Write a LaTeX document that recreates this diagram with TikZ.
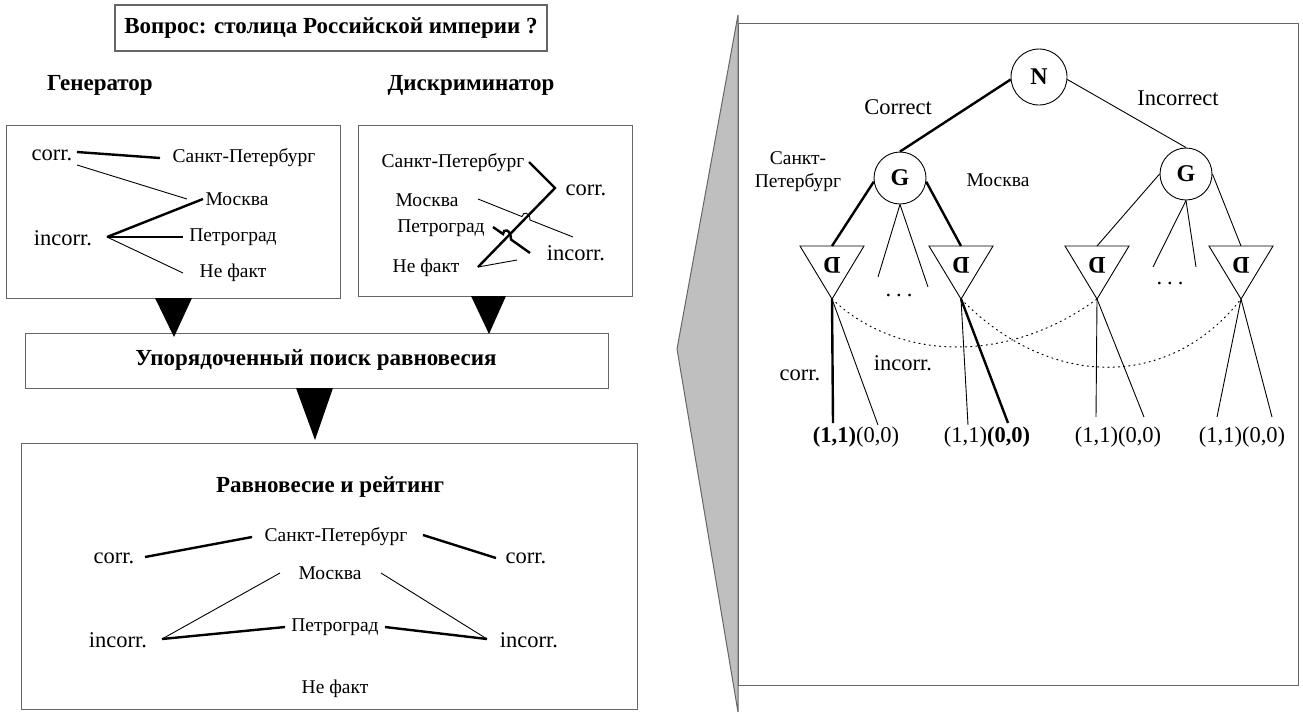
\documentclass[tikz,border=0pt]{standalone}
\usepackage{fontspec}
\setmainfont{Liberation Serif}
\usetikzlibrary{calc}
\begin{document}
\begin{tikzpicture}[x=1pt,y=-1pt,
  frame/.style={draw=black!60, line width=1.3pt, inner sep=0pt},
  cyr/.style={font=\fontsize{19.5}{22}\selectfont, inner sep=0pt},
  lat/.style={font=\fontsize{22.5}{25}\selectfont, inner sep=0pt},
  hd/.style={font=\fontsize{23}{27}\selectfont\bfseries, inner sep=0pt},
  ln/.style={line width=0.9pt},
  bold line/.style={line width=2.4pt},
  pointer/.style={fill=black},
  gnode/.style={circle, draw, line width=0.9pt, minimum size=52pt, inner sep=0pt, font=\fontsize{24}{26}\selectfont\bfseries},
  dnode/.style={font=\fontsize{24}{26}\selectfont\bfseries, inner sep=0pt, rotate=180},
  dotline/.style={dash pattern=on 1.2pt off 4pt, line cap=round, line width=1pt}
]
\useasboundingbox (0,0) rectangle (1303,713);

% ---------- left part ----------
\node[frame, hd, minimum width=432pt, minimum height=46pt] (qbox) at (331,28) {Вопрос: столица Российской империи ?};
\node[hd] (gen) at (100,85) {Генератор};
\node[hd] (disc) at (471,85) {Дискриминатор};

\node[frame, anchor=north west, minimum width=334pt, minimum height=173pt] (genbox) at (6,125) {};
\node[frame, anchor=north west, minimum width=274pt, minimum height=171pt] (discbox) at (358,125) {};
\node[frame, anchor=north west, minimum width=583pt, minimum height=55pt] (search) at (25,333) {};
\node[hd] (searchtxt) at (316,360) {Упорядоченный поиск равновесия};
\node[frame, anchor=north west, minimum width=616pt, minimum height=266pt] (eqbox) at (21,443) {};

% pointers
\fill[pointer] (155,298) -- (192,298) -- (174,337) -- cycle;
\fill[pointer] (471,296) -- (506,296) -- (489,334) -- cycle;
\fill[pointer] (296,388) -- (333,388) -- (315,440) -- cycle;

% generator box
\node[lat] (gc) at (52,155) {corr.};
\node[lat] (gi) at (63,238) {incorr.};
\node[cyr] (gsp) at (244,158) {Санкт-Петербург};
\node[cyr] (gmo) at (237,199) {Москва};
\node[cyr] (gpe) at (233,237) {Петроград};
\node[cyr] (gnf) at (233,273) {Не факт};
\coordinate (gcA) at (77,152);
\coordinate (gcB) at (77,165);
\coordinate (giA) at (107,237);
\draw[bold line] (gcA) -- (160,158);
\draw[ln] (gcB) -- (187,199);
\draw[bold line] (giA) -- (203,199);
\draw[bold line] (giA) -- (183,237);
\draw[ln] (giA) -- (183,273);

% discriminator box
\node[cyr] (dsp) at (453,163) {Санкт-Петербург};
\node[cyr] (dmo) at (427,200) {Москва};
\node[cyr] (dpe) at (441,228) {Петроград};
\node[cyr] (dnf) at (426,268) {Не факт};
\node[lat] (dc) at (586,190) {corr.};
\node[lat] (di) at (576,253) {incorr.};
\coordinate (dv) at (555,188);
\coordinate (dnfE) at (478,267);
\draw[bold line] (529,162) -- (dv) -- (dnfE);
\draw[ln] (dnfE) -- (517,260);
\draw[ln] (478,199) -- (522,216.6) .. controls (523,211) and (530,212) .. (530,220) -- (573,237);
\draw[bold line] (493,227) -- (503,234) .. controls (503,228) and (511,229) .. (511,239.5) -- (530,253);

% equilibrium box
\node[hd] (eqt) at (330,487) {Равновесие и рейтинг};
\node[cyr] (esp) at (336,537) {Санкт-Петербург};
\node[cyr] (emo) at (330,573) {Москва};
\node[cyr] (epe) at (335,627) {Петроград};
\node[cyr] (enf) at (335,689) {Не факт};
\node[lat] (ecl) at (114,558) {corr.};
\node[lat] (ecr) at (526,558) {corr.};
\node[lat] (eil) at (118,640) {incorr.};
\node[lat] (eir) at (529,640) {incorr.};
\coordinate (eilE) at (162,639);
\coordinate (eirW) at (487,639);
\draw[bold line] (145,557) -- (252,537);
\draw[bold line] (423,535) -- (496,558);
\draw[ln] (eilE) -- (280,573);
\draw[ln] (eirW) -- (381,573);
\draw[bold line] (eilE) -- (285,627);
\draw[bold line] (385,627) -- (eirW);

% ---------- right part ----------
\fill[black!25, draw=black!60, line width=1pt] (738,15) -- (677,349) -- (738,712) -- cycle;
\node[frame, anchor=north west, minimum width=560pt, minimum height=662pt] (tree) at (738,23) {};

\node[gnode, minimum size=56pt] (N) at (1039,77) {N};
\node[gnode] (G1) at (900,178) {G};
\node[gnode] (G2) at (1186,174) {G};
\node[lat] (corrT) at (898,107) {Correct};
\node[lat] (incT) at (1178,98) {Incorrect};
\node[cyr, align=center, font=\fontsize{19.5}{23}\selectfont] (spT) at (798,172) {Санкт-\\Петербург};
\node[cyr] (moT) at (998,180) {Москва};

\draw[bold line] (N.185) -- (G1.north);
\draw[ln] (N.-5) -- (G2.north);

% D triangles
\foreach \i/\cx in {1/832, 2/961, 3/1097, 4/1241} {
  \coordinate (t\i) at (\cx,246);
  \coordinate (a\i) at (\cx,299);
  \draw[ln] ($(t\i)+(-32,0)$) -- ($(t\i)+(32,0)$) -- (a\i) -- cycle;
  \node[dnode] (d\i) at (\cx,265) {D};
}

\draw[bold line] (G1.188) -- (t1);
\draw[bold line] (G1.-8) -- (t2);
\draw[ln] (G1.south) -- (878,277);
\draw[ln] (G1.south) -- (928,287);
\node[lat] (dotsL) at (899,295) {.\hspace{5pt}.\hspace{5pt}.};
\draw[ln] (G2.180) -- (t3);
\draw[ln] (G2.0) -- (t4);
\draw[ln] (G2.south) -- (1153,267);
\draw[ln] (G2.south) -- (1196,267);
\node[lat] (dotsR) at (1170,283) {.\hspace{5pt}.\hspace{5pt}.};

% leaves
\draw[bold line] (a1) -- (833,423);
\draw[ln] (a1) -- (878,425);
\draw[ln] (a2) -- (968,425);
\draw[bold line] (a2) -- (1008,423);
\draw[ln] (a3) -- (1096,417);
\draw[ln] (a3) -- (1144,417);
\draw[ln] (a4) -- (1217,417);
\draw[ln] (a4) -- (1272,417);

\draw[dotline] (a1) .. controls (900,363) and (1010,363) .. (a3);
\draw[dotline] (a2) .. controls (1050,390) and (1170,390) .. (a4);

\node[lat] (cL) at (800,375) {corr.};
\node[lat] (iL) at (903,363) {incorr.};

\node[lat] (p1) at (856,437) {\textbf{(1,1)}(0,0)};
\node[lat] (p2) at (987,437) {(1,1)\textbf{(0,0)}};
\node[lat] (p3) at (1118,437) {(1,1)(0,0)};
\node[lat] (p4) at (1242,437) {(1,1)(0,0)};
\end{tikzpicture}
\end{document}
